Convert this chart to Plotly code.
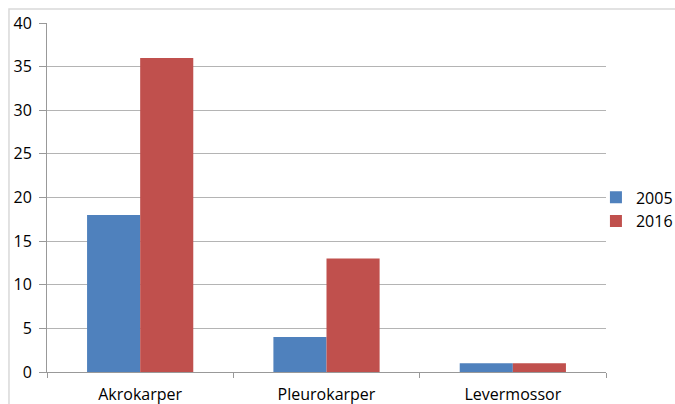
import plotly.graph_objects as go

categories = ["Akrokarper", "Pleurokarper", "Levermossor"]
years = ["2005", "2016"]
values_2005 = [18, 4, 1]
values_2016 = [36, 13, 1]
y_ticks = [0, 5, 10, 15, 20, 25, 30, 35, 40]

colors = {"2005": "#4F81BD", "2016": "#C0504D"}
FONT = "'Open Sans', sans-serif"
FS = 16

fig = go.Figure()
for year, vals in zip(years, [values_2005, values_2016]):
    fig.add_trace(go.Bar(
        x=categories, y=vals, name=year,
        marker=dict(color=colors[year], line=dict(width=0)),
    ))

fig.update_layout(
    width=675, height=404,
    margin=dict(l=47, r=69, t=23, b=32, autoexpand=False),
    paper_bgcolor="white", plot_bgcolor="white",
    barmode="group", bargap=0.43, bargroupgap=0,
    font=dict(family=FONT, size=FS, color="#000000"),
    legend=dict(
        x=0.982, xanchor="left", y=0.466, yanchor="middle",
        font=dict(family=FONT, size=FS, color="#000000"),
        itemwidth=30, tracegroupgap=0, traceorder="normal",
        bgcolor="rgba(0,0,0,0)",
    ),
    xaxis=dict(
        type="category", showgrid=False,
        showline=True, linecolor="#999999", linewidth=1,
        ticks="outside", ticklen=5, tickcolor="#999999",
        tickson="boundaries",
        ticklabelstandoff=8,
        tickfont=dict(family=FONT, size=FS),
    ),
    yaxis=dict(
        range=[0, 40], tickvals=y_ticks,
        showgrid=True, gridcolor="#B4B4B4", gridwidth=1,
        showline=True, linecolor="#999999", linewidth=1,
        ticks="outside", ticklen=7, tickcolor="#999999",
        ticklabelstandoff=4,
        zeroline=False,
        tickfont=dict(family=FONT, size=FS),
    ),
    shapes=[dict(
        type="rect", xref="paper", yref="paper",
        x0=-0.068, x1=1.2, y0=-0.2, y1=1.040,
        line=dict(color="#D9D9D9", width=1.5), layer="below",
    )],
)

fig.write_html("out.html")
